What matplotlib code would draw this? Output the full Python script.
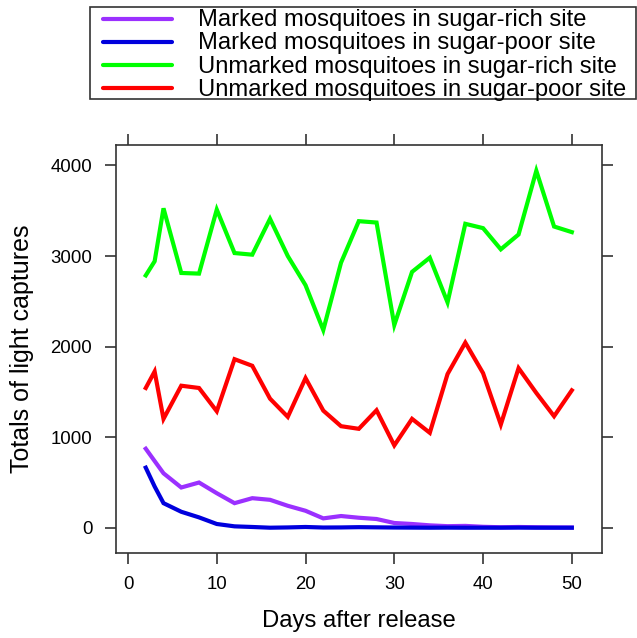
import numpy as np
import matplotlib.pyplot as plt
from matplotlib.lines import Line2D
from matplotlib.patches import Rectangle

plt.rcParams["font.family"] = ["Liberation Sans", "DejaVu Sans"]

##### data
days = [2, 3, 4, 6, 8, 10, 12, 14, 16, 18, 20, 22, 24, 26, 28, 30,
        32, 34, 36, 38, 40, 42, 44, 46, 48, 50]
marked_rich = [872, 736, 601, 444, 499, 381, 271, 326, 308, 242, 187, 103, 129,
               110, 96, 52, 41, 26, 17, 20, 10, 5, 8, 5, 3, 2]
marked_poor = [663, 455, 271, 176, 114, 41, 15, 8, 0, 3, 8, 2, 3,
               6, 4, 2, 1, 0, 1, 0, 0, 0, 1, 0, 0, 0]
unmarked_rich = [2786, 2942, 3527, 2813, 2806, 3513, 3033, 3015, 3411, 3000, 2678, 2183, 2927,
                 3385, 3370, 2238, 2825, 2982, 2488, 3356, 3308, 3074, 3238, 3942, 3326, 3264]
unmarked_poor = [1543, 1725, 1202, 1568, 1543, 1286, 1861, 1788, 1425, 1224, 1652, 1293, 1121,
                 1092, 1297, 909, 1202, 1048, 1697, 2044, 1707, 1139, 1762, 1488, 1231, 1517]

series = [
    ("Marked mosquitoes in sugar-rich site", marked_rich, "#9B30FF"),
    ("Marked mosquitoes in sugar-poor site", marked_poor, "#0000DD"),
    ("Unmarked mosquitoes in sugar-rich site", unmarked_rich, "#00FF00"),
    ("Unmarked mosquitoes in sugar-poor site", unmarked_poor, "#FF0000"),
]

W, H = 637, 638
fig = plt.figure(figsize=(W / 100, H / 100), dpi=100)
ax = fig.add_axes([0.182, 0.1337, 0.7625, 0.639])

for label, vals, col in series:
    ax.plot(days, vals, color=col, lw=3.0, label=label, solid_joinstyle="miter")

##### lattice-like axes: 7% padding, ticks on all sides
ax.set_xlim(-1.36, 53.36)
ax.set_ylim(-276, 4226)
ax.set_xticks([0, 10, 20, 30, 40, 50])
ax.set_yticks([0, 1000, 2000, 3000, 4000])
ax.tick_params(direction="out", length=8, width=1.2, color="#333333",
               labelsize=13.4, pad=9, top=True, right=True)
for s in ax.spines.values():
    s.set_linewidth(1.2)
    s.set_color("#333333")
ax.set_xlabel("Days after release", fontsize=17.2, labelpad=12)
ax.set_ylabel("Totals of light captures", fontsize=18, labelpad=12)

##### key drawn by hand (lattice style: tight rows, big text)
def px(x, y):
    return x / W, 1 - y / H

x0, y0 = px(90, 7.3)
x1, y1 = px(636, 99.3)
fig.patches.append(Rectangle((x0, y1), x1 - x0, y0 - y1, transform=fig.transFigure,
                             fill=False, edgecolor="#333333", lw=1.2))
row_y = [18.7, 42.0, 65.0, 88.3]
for (label, vals, col), ry in zip(series, row_y):
    lx0, ly = px(102.7, ry)
    lx1, _ = px(172.3, ry)
    fig.lines.append(Line2D([lx0, lx1], [ly, ly], transform=fig.transFigure,
                            color=col, lw=3.0, solid_capstyle="round"))
    tx, ty = px(198.3, ry + 7.5)
    fig.text(tx, ty, label, fontsize=17.1, va="baseline", ha="left")

fig.savefig("out.png", dpi=100)
